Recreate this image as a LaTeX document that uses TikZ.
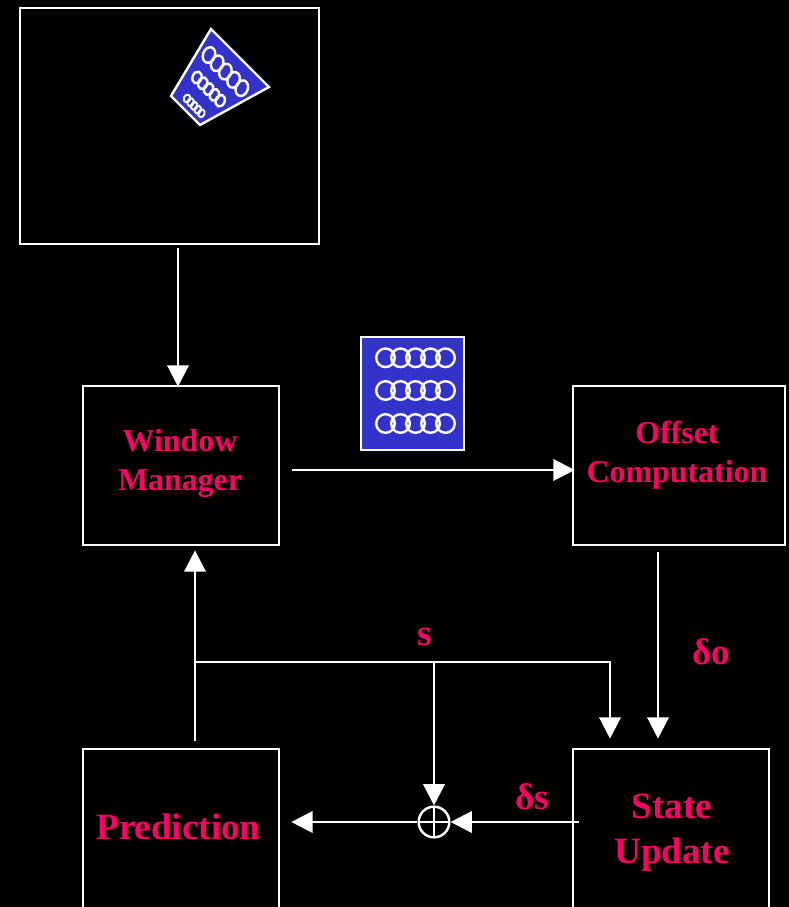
\documentclass[tikz,border=0pt]{standalone}
\usepackage{fontspec}
\setmainfont{Liberation Serif}
\usetikzlibrary{arrows.meta}
\definecolor{lbl}{HTML}{FF0066}
\definecolor{chip}{HTML}{3333CC}
\begin{document}
\begin{tikzpicture}[x=0.75pt,y=-0.75pt,
  block/.style={draw=white,line width=2pt,inner sep=0pt},
  lbltext/.style={text=lbl,align=center,inner sep=0pt},
  midfont/.style={font=\bfseries\fontsize{23.9}{29.25}\selectfont},
  bigfont/.style={font=\bfseries\fontsize{27.8}{33.75}\selectfont},
  wire/.style={draw=white,line width=1.9pt},
  arr/.style={wire,-{Triangle[width=16pt,length=16pt]}},
  ring/.style={draw=white,line width=1.8pt},
  chipbox/.style={fill=chip,draw=white,line width=1.8pt}]
\fill[black] (0,0) rectangle (789,907);
\useasboundingbox (0,0) rectangle (789,907);
\clip (0,0) rectangle (789,907);

% blocks
\node[block,minimum width=224.25pt,minimum height=177pt] (cam) at (169.5,126) {};
\node[block,minimum width=147pt,minimum height=119.25pt] (wm) at (181,465.5) {};
\node[block,minimum width=159pt,minimum height=119.25pt] (oc) at (679,465.5) {};
\node[block,minimum width=147pt,minimum height=121.5pt] (pred) at (181,830) {};
\node[block,minimum width=147pt,minimum height=121.5pt] (su) at (671,830) {};

% block captions
\node[lbltext,midfont] (wmtext) at (180,463) {Window\\Manager};
\node[lbltext,midfont] (octext) at (677,455) {Offset\\Computation};
\node[lbltext,bigfont] (predtext) at (178.5,827) {Prediction};
\node[lbltext,bigfont] (sutext) at (672,833) {State\\Update};

% tilted chip inside the camera view
\filldraw[chipbox] (211,29) -- (269,87) -- (200,125) -- (171,96) -- cycle;
\foreach \i in {0,...,4} {
  \draw[ring] (209+8.2*\i,55+8.3*\i) ellipse [x radius=6, y radius=8, rotate=-20];
  \draw[ring] (197+5.8*\i,77.5+5.8*\i) ellipse [x radius=4.5, y radius=6, rotate=-20];
  \draw[ring,line width=1.4pt] (187+3.6*\i,98.5+3.7*\i) ellipse [x radius=3.2, y radius=4, rotate=-20];
}

% upright chip between the top blocks
\node[chipbox,minimum width=77.25pt,minimum height=84.75pt,inner sep=0pt] (chip) at (412.5,393.5) {};
\foreach \r in {357.8,390.5,423.5} {
  \foreach \i in {0,...,4} {
    \draw[ring] (385.5+15*\i,\r) circle (9.3);
  }
}

% summing junction
\node[circle,draw=white,line width=1.8pt,minimum size=23pt,inner sep=0pt,
  path picture={\draw[white,line width=1.8pt]
    (path picture bounding box.north) -- (path picture bounding box.south)
    (path picture bounding box.west) -- (path picture bounding box.east);}]
  (sum) at (434,822) {};

% connectors
\draw[arr] ([shift={(8.5,3)}]cam.south) -- ([shift={(-3,2)}]wm.north);
\draw[arr] ([shift={(12,4.5)}]wm.east) -- ([shift={(3,4.5)}]oc.west);
\draw[arr] ([shift={(-21,6)}]oc.south) -- ([shift={(-13,-9)}]su.north);
\draw[arr] ([shift={(14,-7)}]pred.north) -- ([shift={(14,4)}]wm.south);

\coordinate (tap) at (195,662);
\coordinate (turn) at (610,662);
\coordinate (split) at (434,662);
\draw[arr] (tap) -- (turn) -- ([shift={(-61,-9)}]su.north);
\draw[arr] (split) -- (sum.north);
\draw[arr] ([shift={(7,-8)}]su.west) -- (sum.east);
\draw[arr] (sum.west) -- ([shift={(11,-8)}]pred.east);

% signal labels
\node[lbltext,bigfont] (slbl) at (425,637) {s};
\node[lbltext,bigfont] (dolbl) at (711,652) {δo};
\node[lbltext,bigfont] (dslbl) at (532,797) {δs};
\end{tikzpicture}
\end{document}
